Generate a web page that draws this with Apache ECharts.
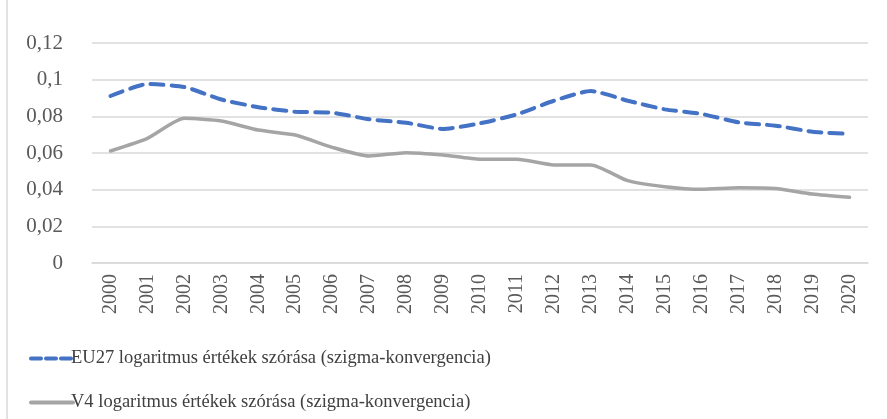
<!DOCTYPE html>
<html>
<head>
<meta charset="utf-8">
<script src="https://cdn.jsdelivr.net/npm/echarts@6/dist/echarts.min.js"></script>
<style>
  html, body { margin: 0; padding: 0; background: #fff; }
  #chart { width: 887px; height: 419px; }
</style>
</head>
<body>
<div id="chart"></div>
<script>
// évek (x tengely)
const years = ["2000", "2001", "2002", "2003", "2004", "2005", "2006", "2007", "2008", "2009",
  "2010", "2011", "2012", "2013", "2014", "2015", "2016", "2017", "2018", "2019", "2020"];
// EU27 szórás
const eu27 = [0.0911, 0.0976, 0.0960, 0.0892, 0.0850, 0.0825, 0.0820, 0.0784, 0.0765, 0.0731,
  0.0762, 0.0811, 0.0885, 0.0938, 0.0885, 0.0838, 0.0813, 0.0767, 0.0749, 0.0716, 0.0704];
// V4 szórás
const v4 = [0.0611, 0.0680, 0.0789, 0.0775, 0.0725, 0.0698, 0.0631, 0.0584, 0.0602, 0.0589,
  0.0566, 0.0566, 0.0535, 0.0535, 0.0449, 0.0416, 0.0402, 0.0411, 0.0407, 0.0376, 0.0358];
const seriesNames = [
  "EU27 logaritmus értékek szórása (szigma-konvergencia)",
  "V4 logaritmus értékek szórása (szigma-konvergencia)"
];

const font = "Liberation Serif";
const chart = echarts.init(document.getElementById("chart"));

// egy-egy jelmagyarázat sor
function legendRow(name, top, dash) {
  return {
    left: 24,
    top: top,
    itemWidth: 42,
    itemHeight: 14,
    itemStyle: { opacity: 0 },
    lineStyle: { width: 4, type: dash },
    textStyle: { fontFamily: font, fontSize: 18.5, color: "#404040", padding: [0, 0, 0, -7] },
    data: [name]
  };
}

const option = {
  backgroundColor: "#fff",
  animation: false,
  grid: { left: 92, right: 19, top: 43, bottom: 156 },
  // bal oldali keret vonal
  graphic: [{
    type: "line",
    shape: { x1: 7, y1: 0, x2: 7, y2: 419 },
    style: { stroke: "#d9d9d9", lineWidth: 1.5 }
  }],
  legend: [legendRow(seriesNames[0], 344, [10, 5]), legendRow(seriesNames[1], 388, "solid")],
  xAxis: {
    type: "category",
    data: years,
    boundaryGap: true,
    axisLine: { lineStyle: { color: "#d9d9d9", width: 1.5 } },
    axisTick: { show: false },
    axisLabel: {
      rotate: 90,
      margin: 11,
      interval: 0,
      fontFamily: font,
      fontSize: 20,
      color: "#595959"
    }
  },
  yAxis: {
    type: "value",
    min: 0,
    max: 0.12,
    interval: 0.02,
    axisLine: { show: false },
    axisTick: { show: false },
    splitLine: { lineStyle: { color: "#d9d9d9", width: 1.5 } },
    axisLabel: {
      margin: 29,
      fontFamily: font,
      fontSize: 21,
      color: "#595959",
      formatter: function (v) {
        return String(+v.toFixed(2)).replace(".", ",");
      }
    }
  },
  series: [
    {
      name: seriesNames[0],
      type: "line",
      data: eu27,
      symbol: "none",
      smooth: 0.2,
      lineStyle: { color: "#4472c4", width: 4, type: [13, 8], cap: "round" },
      itemStyle: { color: "#4472c4" }
    },
    {
      name: seriesNames[1],
      type: "line",
      data: v4,
      symbol: "none",
      smooth: 0.2,
      lineStyle: { color: "#a5a5a5", width: 3.5, cap: "round" },
      itemStyle: { color: "#a5a5a5" }
    }
  ]
};
chart.setOption(option);
</script>
</body>
</html>
